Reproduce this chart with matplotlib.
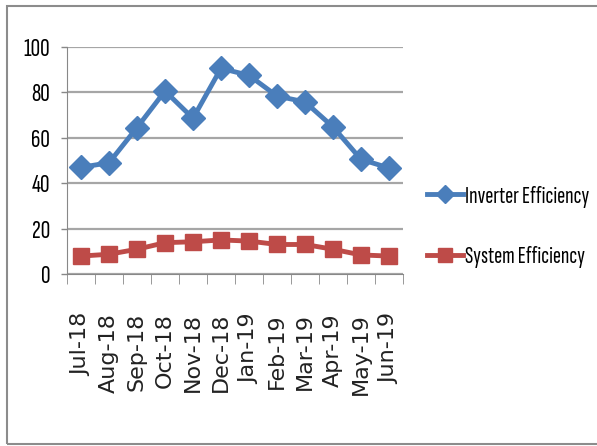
import matplotlib.pyplot as plt
import numpy as np
from matplotlib.patches import Rectangle

months = ['Jul-18', 'Aug-18', 'Sep-18', 'Oct-18', 'Nov-18', 'Dec-18',
          'Jan-19', 'Feb-19', 'Mar-19', 'Apr-19', 'May-19', 'Jun-19']
inverter = [47, 49, 64.5, 80.6, 68.6, 90.6, 87.5, 78.4, 75.8, 64.8, 50.5, 46.7]
system = [7.9, 8.7, 10.9, 13.8, 14.2, 15.0, 14.5, 13.0, 13.0, 10.9, 8.4, 7.9]
yticks = [0, 20, 40, 60, 80, 100]

# schmale Schrift wie im Original (Calibri, gestaucht)
narrow = ['Sofia Sans Extra Condensed', 'DejaVu Sans']

fig = plt.figure(figsize=(5.97, 4.46), dpi=100)
ax = fig.add_axes([67/597, 1 - 274/446, (403-67)/597, (274-47)/446])

x = np.arange(len(months))
ax.plot(x, inverter, color='#4A7EBB', lw=3.5, marker='D', ms=12,
        label='Inverter Efficiency')
ax.plot(x, system, color='#BE4B48', lw=3.5, marker='s', ms=12,
        label='System Efficiency')

ax.set_xlim(-0.5, 11.5)
ax.set_ylim(0, 100)
ax.set_yticks(yticks)
ax.set_yticklabels([str(v) for v in yticks], family=narrow, fontsize=19)
ax.yaxis.grid(True, color='#A6A6A6', lw=1.6)
ax.set_axisbelow(True)
ax.tick_params(axis='y', length=4, width=1, color='#888888', pad=8)

ax.set_xticks(x)
ax.set_xticklabels(months, rotation=90, fontsize=16, color='#222222')
ax.tick_params(axis='x', which='major', length=0, pad=28)
ax.set_xticks(np.arange(-0.5, 12, 1), minor=True)
ax.tick_params(axis='x', which='minor', length=7, color='#888888')

for s in ['top', 'right']:
    ax.spines[s].set_visible(False)
ax.spines['left'].set_color('#888888')
ax.spines['bottom'].set_color('#888888')

fig.legend(loc='center left', bbox_to_anchor=(427/597, 1 - 227/446),
           frameon=False, prop={'family': narrow, 'size': 17.5},
           labelspacing=1.6, handlelength=1.5, handletextpad=0.05,
           markerscale=0.8, borderpad=0, borderaxespad=0)

# grauer Rahmen um das Diagramm
fig.patches.append(Rectangle((7/597, 2/446), 1, 1 - 8/446, transform=fig.transFigure,
                             fill=False, edgecolor='#8C8C8C', lw=1.5))

fig.savefig('out.png', dpi=100)
